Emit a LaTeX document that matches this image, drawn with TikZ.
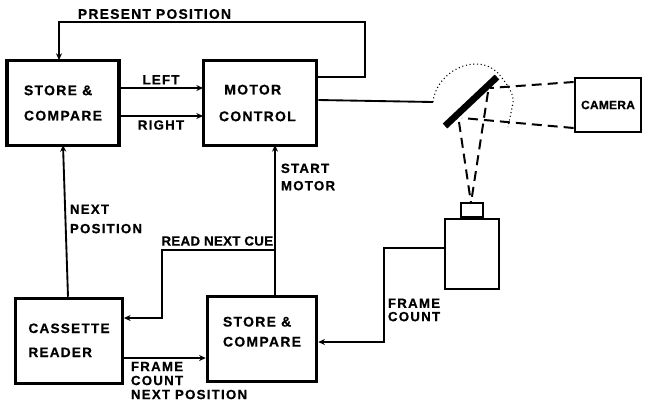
\documentclass[tikz,border=0pt]{standalone}
\usepackage{fontspec}
\setmainfont{Liberation Sans}
\newfontfamily\labelfont[LetterSpace=9, BoldFeatures={FakeBold=0.6}]{Liberation Sans}
\newfontfamily\tightfont[LetterSpace=2, BoldFeatures={FakeBold=0.6}]{Liberation Sans}
\usetikzlibrary{positioning, arrows.meta, calc}

\begin{document}
\begin{tikzpicture}[x=0.75pt, y=-0.75pt, line width=1.4pt,
        blockbox/.style={draw, line width=2.4pt, rectangle, align=left, inner sep=0pt, font=\labelfont\bfseries\fontsize{10.5}{19}\selectfont},
        tag/.style={inner sep=0pt, align=left, font=\labelfont\bfseries\fontsize{10}{#1}\selectfont},
        tag/.default=13,
        flow/.style={-{Stealth[length=5pt, width=4.5pt]}},
        beam/.style={line width=1.5pt, dash pattern=on 7.5pt off 4.5pt},
        sweep/.style={line width=0.8pt, dotted}]
        \useasboundingbox (0,0) rectangle (645,408);
        % blocks
        \node [blockbox, minimum width=84pt, minimum height=64pt] (storeA) at (63,103) {STORE \&\\COMPARE};
        \node [blockbox, minimum width=85pt, minimum height=64pt, font=\labelfont\bfseries\fontsize{10.5}{20}\selectfont] (motor) at (260,103) {\hspace*{4pt}MOTOR\\CONTROL\hspace*{4pt}};
        \node [blockbox, minimum width=80pt, minimum height=64pt, font=\labelfont\bfseries\fontsize{10.2}{18}\selectfont] (reader) at (69,341) {\mbox{}\\[-12pt]CASSETTE\\READER};
        \node [blockbox, minimum width=82pt, minimum height=64pt, font=\labelfont\bfseries\fontsize{10.5}{15}\selectfont] (storeB) at (262,339) {STORE \&\\COMPARE\\[-4pt]\mbox{}};
        \node [blockbox, minimum width=50pt, minimum height=41pt, line width=1.6pt, font=\tightfont\bfseries\fontsize{9}{10}\selectfont] (camera) at (608,105) {CAMERA};
        \node [draw, line width=1.6pt, minimum width=41pt, minimum height=52pt, inner sep=0pt] (counter) at (472,254) {};
        \node [draw, line width=1.4pt, minimum width=16pt, minimum height=11pt, inner sep=0pt, above=0pt of counter] (lens) {};
        % free ends
        \coordinate (mirrorA) at (445,126);
        \coordinate (mirrorB) at (497,77);
        \coordinate (hub) at (433,102);
        \coordinate (lensTop) at (471,203);
        % connectors
        \draw [flow] (motor.east |- 0,77) -- ++(47,0) |- (59,22) -- (59,60);
        \draw [flow] (119,88) -- node [tag, above=2pt] {LEFT} (203,88);
        \draw [flow] (119,116) -- node [tag, below=2.5pt] {RIGHT} (203,116);
        \draw [flow] (storeB.north -| 275,0) -- (275,145);
        \draw [flow] (275,250) -| (162,318) -- (reader.east |- 0,318);
        \draw [flow] (reader.north -| 68,0) -- (63,145);
        \draw [flow] (reader.east |- 0,358) -- (storeB.west |- 0,358);
        \draw [flow] (counter.west |- 0,248) -| (384,342) -- (storeB.east |- 0,342);
        \draw (motor.east |- 0,100) -- (hub);
        % mirror and optics
        \draw [line width=5pt] (mirrorA) -- (mirrorB);
        \draw [sweep] (hub) .. controls (436,72) and (475,52) .. (497,72) .. controls (506,82) and (515,95) .. (513,103) -- (508,127);
        \draw [beam] (camera.west |- 0,82) -- (490,88);
        \draw [beam] (camera.west |- 0,128) -- (462,118);
        \draw [beam] (488,92) -- (lensTop);
        \draw [beam] (459,122) -- (lensTop);
        % labels
        \node [tag, anchor=west, font=\labelfont\bfseries\fontsize{10.4}{13}\selectfont] at (77,14) {PRESENT POSITION};
        \node [tag, anchor=west] at (280,177) {START\\MOTOR};
        \node [tag=14.5, anchor=west] at (69,219) {NEXT\\POSITION};
        \node [tag, anchor=east, font=\tightfont\bfseries\fontsize{10}{12}\selectfont] at (274,241) {READ NEXT CUE};
        \node [tag=10.5, anchor=north west] at (130,361) {FRAME\\COUNT\\NEXT POSITION};
        \node [tag=10, anchor=west] at (387,310) {FRAME\\COUNT};
    \end{tikzpicture}
\end{document}
